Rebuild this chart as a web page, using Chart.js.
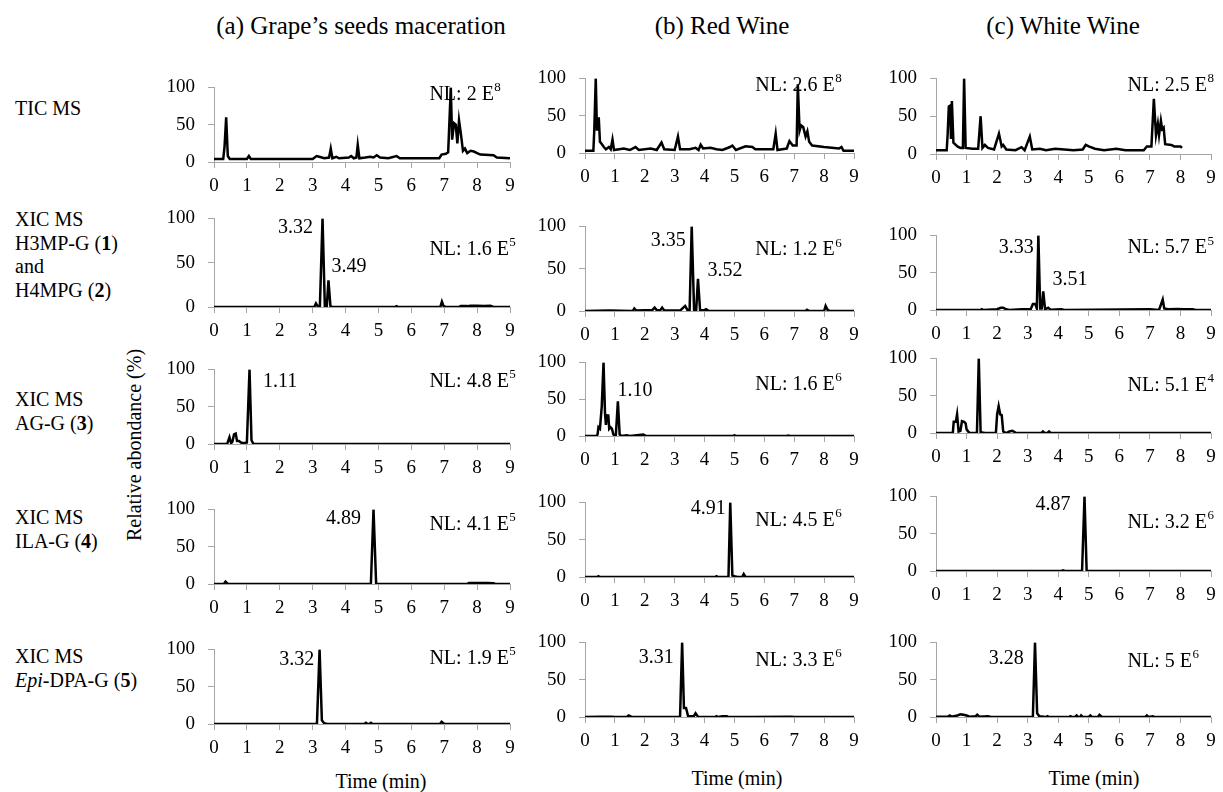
<!DOCTYPE html>
<html>
<head>
<meta charset="utf-8">
<script src="https://cdn.jsdelivr.net/npm/chart.js@4.4.0/dist/chart.umd.min.js"></script>
<style>
  body { margin: 0; background: #fff; width: 1223px; height: 792px; overflow: hidden; position: relative;
         font-family: "Liberation Serif", "Times New Roman", serif; color: #000; }
  canvas { position: absolute; }
  .title { position: absolute; font-size: 25px; line-height: 1; white-space: nowrap; transform: translate(-50%, -50%); }
  .row { position: absolute; left: 15px; font-size: 20px; line-height: 23.5px; white-space: nowrap; }
  .axis { position: absolute; font-size: 20px; line-height: 1; white-space: nowrap; transform: translate(-50%, -50%); }
</style>
</head>
<body>

<div class="title" style="left:361px;top:25px">(a) Grape’s seeds maceration</div>
<div class="title" style="left:722px;top:25px">(b) Red Wine</div>
<div class="title" style="left:1063px;top:25px">(c) White Wine</div>

<div class="row" style="top:97px">TIC MS</div>
<div class="row" style="top:208px">XIC MS<br>H3MP-G (<b>1</b>)<br>and<br>H4MPG (<b>2</b>)</div>
<div class="row" style="top:388px">XIC MS<br>AG-G (<b>3</b>)</div>
<div class="row" style="top:506px">XIC MS<br>ILA-G (<b>4</b>)</div>
<div class="row" style="top:645px">XIC MS<br><i>Epi</i>-DPA-G (<b>5</b>)</div>

<div class="axis" style="left:134px;top:445px;transform:translate(-50%,-50%) rotate(-90deg)">Relative abondance (%)</div>
<div class="axis" style="left:381px;top:781px">Time (min)</div>
<div class="axis" style="left:737px;top:778px">Time (min)</div>
<div class="axis" style="left:1094px;top:778px">Time (min)</div>

<script>
// tick labels
const xTicks = [0, 1, 2, 3, 4, 5, 6, 7, 8, 9];
const yTicks = [0, 50, 100];

// chromatograms: [time (min), relative abundance (%)]
// TIC MS
const ticA = [[0,4],[0.28,4],[0.32,20],[0.37,60],[0.42,8],[0.48,4],[1.0,4],[1.06,8],[1.12,4],[2.0,4],[3.0,4],[3.12,8],[3.2,7],[3.35,5],[3.5,6],[3.55,18],[3.6,5],[3.72,7],[3.8,5],[4.1,6],[4.17,8],[4.25,5],[4.33,6],[4.37,23],[4.42,5],[4.6,6],[4.75,7],[4.85,6],[4.95,9],[5.05,6],[5.3,5],[5.55,8],[5.65,5],[6.5,5],[6.85,5],[6.92,10],[7.05,11],[7.12,13],[7.2,100],[7.24,30],[7.3,52],[7.35,50],[7.4,25],[7.45,56],[7.5,40],[7.57,15],[7.63,18],[7.7,12],[7.8,15],[7.9,14],[8.0,12],[8.1,10],[8.5,9],[8.6,6],[9,5]];
const ticB = [[0,3],[0.28,3],[0.31,30],[0.36,100],[0.4,30],[0.46,48],[0.5,15],[0.56,12],[0.63,8],[0.7,5],[0.8,8],[0.86,5],[0.92,18],[0.97,4],[1.3,6],[1.5,4],[1.69,8],[1.8,4],[2.2,6],[2.4,4],[2.56,14],[2.65,5],[3.0,4],[3.11,22],[3.18,5],[3.5,5],[3.7,7],[3.8,4],[3.87,11],[3.95,6],[4.2,7],[4.4,5],[4.6,4],[4.85,8],[4.93,10],[5.05,4],[5.37,9],[5.6,8],[5.7,5],[6.0,5],[6.3,5],[6.38,26],[6.44,4],[6.6,5],[6.75,6],[6.84,16],[6.95,10],[7.08,10],[7.12,92],[7.18,30],[7.23,37],[7.3,35],[7.38,22],[7.44,29],[7.5,15],[7.6,10],[8.0,8],[8.5,6],[8.58,8],[8.65,3],[9,3]];
const ticC = [[0,5],[0.35,5],[0.38,25],[0.42,63],[0.46,64],[0.49,20],[0.52,70],[0.57,15],[0.7,10],[0.8,8],[0.88,8],[0.92,100],[0.97,8],[1.2,7],[1.38,7],[1.46,50],[1.52,8],[1.6,12],[1.7,8],[1.9,6],[2.06,27],[2.15,10],[2.2,12],[2.3,6],[2.6,5],[2.8,9],[2.9,5],[3.07,23],[3.15,6],[3.4,7],[3.6,5],[3.9,7],[4.2,6],[4.5,5],[4.8,6],[4.9,12],[5.0,10],[5.2,7],[5.5,5],[5.9,7],[6.2,5],[6.8,5],[6.9,10],[7.05,10],[7.13,73],[7.2,25],[7.26,40],[7.3,25],[7.36,44],[7.4,33],[7.45,35],[7.5,13],[7.7,12],[7.8,10],[8.0,10],[8.05,8]];

// XIC H3MP-G (1) and H4MPG (2)
const h3mpA = [[0,0],[3.05,0],[3.1,4],[3.15,1],[3.22,1],[3.3,100],[3.37,1],[3.43,1],[3.48,30],[3.54,1],[3.6,0],[5.5,0],[5.55,1],[5.6,0],[6.88,0],[6.93,6],[6.98,1],[7.05,0],[7.45,0],[7.5,1],[7.7,1],[7.8,1.5],[8.0,1.5],[8.2,1],[8.4,1.5],[8.5,0],[9,0]];
const h3mpB = [[0,0],[0.8,0.5],[1.6,0],[1.65,3],[1.72,0.5],[2.0,1],[2.25,1],[2.33,4],[2.4,1],[2.52,1],[2.58,4],[2.65,0.5],[3.2,1],[3.35,6],[3.43,1],[3.5,1],[3.57,100],[3.65,1],[3.72,1],[3.78,38],[3.85,1],[4.0,1],[4.05,2],[4.15,0],[7.38,0],[7.43,1.5],[7.5,0],[8.0,0],[8.05,6],[8.12,1],[8.2,0],[9,0]];
const h3mpC = [[0,0],[1.45,0],[1.5,1],[1.55,0],[2.0,1],[2.12,3],[2.2,3],[2.3,1],[2.4,0],[2.8,1],[3.1,1],[3.17,8],[3.25,8],[3.3,2],[3.35,100],[3.41,2],[3.46,2],[3.51,25],[3.57,1],[3.67,3],[3.75,0.5],[4.1,1],[4.2,0],[7.0,1],[7.3,0],[7.42,14],[7.47,2],[7.6,1],[7.9,1.5],[8.1,1],[8.4,1],[8.5,0],[9,0]];

// XIC AG-G (3)
const aggA = [[0,0],[0.4,0],[0.47,9],[0.52,1],[0.56,3],[0.61,13],[0.66,14],[0.7,4],[0.76,4],[0.82,2],[0.9,1],[1.0,2],[1.08,100],[1.14,5],[1.2,0],[9,0]];
const aggB = [[0,0],[0.38,0],[0.42,2],[0.45,12],[0.5,10],[0.56,40],[0.62,100],[0.67,30],[0.7,15],[0.73,28],[0.78,28],[0.81,10],[0.85,12],[0.9,10],[0.95,2],[1.03,0],[1.1,47],[1.16,2],[1.22,0],[1.4,1],[1.5,0],[1.95,2],[2.05,0],[4.95,0],[5.0,0.8],[5.05,0],[6.75,0],[6.8,0.5],[6.85,0],[9,0]];
const aggC = [[0,0],[0.55,0],[0.58,15],[0.65,15],[0.69,25],[0.74,2],[0.8,3],[0.85,16],[0.92,15],[0.97,13],[1.0,5],[1.05,2],[1.1,0],[1.34,0],[1.4,100],[1.46,1],[1.6,0],[1.96,0],[2.0,25],[2.05,36],[2.1,25],[2.15,24],[2.2,2],[2.3,0],[2.4,2],[2.5,3],[2.6,0.5],[3.45,0],[3.5,2],[3.55,0],[3.65,0],[3.7,2],[3.75,0],[9,0]];

// XIC ILA-G (4)
const ilaA = [[0,0],[0.3,0],[0.35,3],[0.42,0],[4.77,0],[4.85,100],[4.93,0],[7.7,0],[7.75,1.5],[8.0,1.5],[8.3,1.5],[8.5,1],[8.55,0],[9,0]];
const ilaB = [[0,0],[0.4,0],[0.45,1],[0.5,0],[4.35,0],[4.4,1],[4.45,0],[4.8,0],[4.86,100],[4.93,2],[5.0,1],[5.1,0],[5.26,0],[5.31,4],[5.37,0],[9,0]];
const ilaC = [[0,0],[4.1,0],[4.15,1],[4.22,0],[4.78,0],[4.86,100],[4.93,0],[9,0]];

// XIC Epi-DPA-G (5)
const dpaA = [[0,0],[3.13,0],[3.21,100],[3.28,5],[3.35,1],[3.45,0],[4.57,0],[4.62,1.5],[4.67,0],[4.72,0],[4.77,1.5],[4.82,0],[6.87,0],[6.92,3],[7.0,0],[9,0]];
const dpaB = [[0,0],[0.5,0.5],[0.9,0.5],[1.0,0],[1.4,0],[1.46,2],[1.55,0.5],[1.7,0],[3.18,0],[3.25,100],[3.31,12],[3.38,12],[3.45,1],[3.64,1],[3.7,5],[3.78,0.5],[4.35,0],[4.4,1],[4.45,0],[4.6,1],[4.75,1],[4.8,0],[5.5,0],[6.9,0.5],[7.0,0],[9,0]];
const dpaC = [[0,0.5],[0.4,0.5],[0.45,2],[0.5,0.5],[0.7,2],[0.8,3.5],[0.9,3],[1.0,2],[1.1,0.5],[1.3,1],[1.35,3],[1.42,0.5],[1.7,1],[1.8,0],[3.17,0],[3.24,100],[3.31,5],[3.38,1],[3.6,0],[3.65,1],[3.7,0],[4.35,0],[4.4,1],[4.45,0],[4.55,0],[4.6,2],[4.65,0],[4.72,0],[4.75,2],[4.8,0],[5.0,0],[5.05,2],[5.1,0],[5.3,0],[5.35,3],[5.42,0.5],[6.85,0],[6.9,2],[6.95,0],[7.1,1],[7.15,0],[9,0]];

// normalisation levels: [mantissa, exponent]
const nlA = [['2','8'], ['1.6','5'], ['4.8','5'], ['4.1','5'], ['1.9','5']];
const nlB = [['2.6','8'], ['1.2','6'], ['1.6','6'], ['4.5','6'], ['3.3','6']];
const nlC = [['2.5','8'], ['5.7','5'], ['5.1','4'], ['3.2','6'], ['5','6']];

// layout (px) --------------------------------------------------------
const PADL = 60, PADR = 18, PADT = 15, PADB = 38;
const FONT = '"Liberation Serif", "Times New Roman", serif';
const AXIS_GREY = '#a6a6a6';
const cols = {
  a: { left: 214, right: 510, nlX: 6.55 },
  b: { left: 585, right: 854, nlX: 5.7 },
  c: { left: 936, right: 1211, nlX: 6.27 }
};

// peak labels: [text, time, abundance, align]; nlY = abundance level of NL text
const panels = [
  { col: 'a', top: 78,  bottom: 162, data: ticA, nl: nlA[0], nlY: 90, peaks: [] },
  { col: 'b', top: 69,  bottom: 153, data: ticB, nl: nlB[0], nlY: 90, peaks: [] },
  { col: 'c', top: 69,  bottom: 154, data: ticC, nl: nlC[0], nlY: 90, peaks: [] },
  { col: 'a', top: 209, bottom: 307, data: h3mpA, nl: nlA[1], nlY: 65, peaks: [['3.32', 3.01, 89, 'right'], ['3.49', 3.57, 45, 'left']] },
  { col: 'b', top: 217, bottom: 311, data: h3mpB, nl: nlB[1], nlY: 72, peaks: [['3.35', 3.37, 83, 'right'], ['3.52', 4.1, 48, 'left']] },
  { col: 'c', top: 226, bottom: 310, data: h3mpC, nl: nlC[1], nlY: 83, peaks: [['3.33', 3.2, 83, 'right'], ['3.51', 3.81, 40, 'left']] },
  { col: 'a', top: 360, bottom: 444, data: aggA, nl: nlA[2], nlY: 84, peaks: [['1.11', 1.49, 84, 'left']] },
  { col: 'b', top: 353, bottom: 436, data: aggB, nl: nlB[2], nlY: 70, peaks: [['1.10', 1.09, 62, 'left']] },
  { col: 'c', top: 349, bottom: 433, data: aggC, nl: nlC[2], nlY: 63, peaks: [] },
  { col: 'a', top: 500, bottom: 584, data: ilaA, nl: nlA[3], nlY: 80, peaks: [['4.89', 4.47, 88, 'right']] },
  { col: 'b', top: 493, bottom: 577, data: ilaB, nl: nlB[3], nlY: 76, peaks: [['4.91', 4.71, 92, 'right']] },
  { col: 'c', top: 487, bottom: 571, data: ilaC, nl: nlC[3], nlY: 65, peaks: [['4.87', 4.4, 89, 'right']] },
  { col: 'a', top: 640, bottom: 724, data: dpaA, nl: nlA[4], nlY: 88, peaks: [['3.32', 3.05, 86, 'right']] },
  { col: 'b', top: 633, bottom: 717, data: dpaB, nl: nlB[4], nlY: 76, peaks: [['3.31', 2.97, 80, 'right']] },
  { col: 'c', top: 633, bottom: 717, data: dpaC, nl: nlC[4], nlY: 74, peaks: [['3.28', 2.87, 78, 'right']] }
];

// draws peak retention times and the NL text in data coordinates
function labelPlugin(p) {
  return {
    id: 'labels',
    afterDatasetsDraw(chart) {
      const { ctx, scales: { x, y } } = chart;
      ctx.save();
      ctx.fillStyle = '#000';
      ctx.textBaseline = 'middle';
      ctx.font = '20px ' + FONT;
      p.peaks.forEach(pk => {
        ctx.textAlign = pk[3];
        ctx.fillText(pk[0], x.getPixelForValue(pk[1]), y.getPixelForValue(pk[2]));
      });
      const px = x.getPixelForValue(cols[p.col].nlX);
      const py = y.getPixelForValue(p.nlY);
      const base = 'NL: ' + p.nl[0] + ' E';
      ctx.textAlign = 'left';
      ctx.fillText(base, px, py);
      const w = ctx.measureText(base).width;
      ctx.font = '13px ' + FONT;
      ctx.fillText(p.nl[1], px + w + 0.5, py - 7);
      ctx.restore();
    }
  };
}

panels.forEach(p => {
  const c = cols[p.col];
  const cv = document.createElement('canvas');
  const w = (c.right - c.left) + PADL + PADR;
  const h = (p.bottom - p.top) + PADT + PADB;
  cv.width = w; cv.height = h;
  cv.style.left = (c.left - PADL) + 'px';
  cv.style.top = (p.top - PADT) + 'px';
  cv.style.width = w + 'px';
  cv.style.height = h + 'px';
  document.body.appendChild(cv);

  new Chart(cv.getContext('2d'), {
    type: 'line',
    data: {
      datasets: [{
        data: p.data.map(d => ({ x: d[0], y: d[1] })),
        borderColor: '#000',
        borderWidth: 2.5,
        pointRadius: 0,
        tension: 0,
        fill: false
      }]
    },
    options: {
      responsive: false,
      animation: false,
      devicePixelRatio: 1,
      layout: { padding: { top: PADT, right: PADR, left: 0, bottom: 0 } },
      plugins: { legend: { display: false }, tooltip: { enabled: false } },
      scales: {
        x: {
          type: 'linear', min: 0, max: 9,
          afterBuildTicks: s => { s.ticks = xTicks.map(v => ({ value: v })); },
          afterFit: s => { s.height = PADB; },
          grid: { display: true, drawOnChartArea: false, drawTicks: true, tickLength: 6, color: AXIS_GREY },
          border: { display: true, color: AXIS_GREY, width: 1 },
          ticks: { color: '#000', font: { family: FONT, size: 19 }, padding: 7, maxRotation: 0, autoSkip: false }
        },
        y: {
          min: 0, max: 100,
          afterBuildTicks: s => { s.ticks = yTicks.map(v => ({ value: v })); },
          afterFit: s => { s.width = PADL; },
          grid: { display: true, drawOnChartArea: false, drawTicks: true, tickLength: 6, color: AXIS_GREY },
          border: { display: true, color: AXIS_GREY, width: 1 },
          ticks: { color: '#000', font: { family: FONT, size: 19 }, padding: 13 }
        }
      }
    },
    plugins: [labelPlugin(p)]
  });
});
</script>
</body>
</html>
